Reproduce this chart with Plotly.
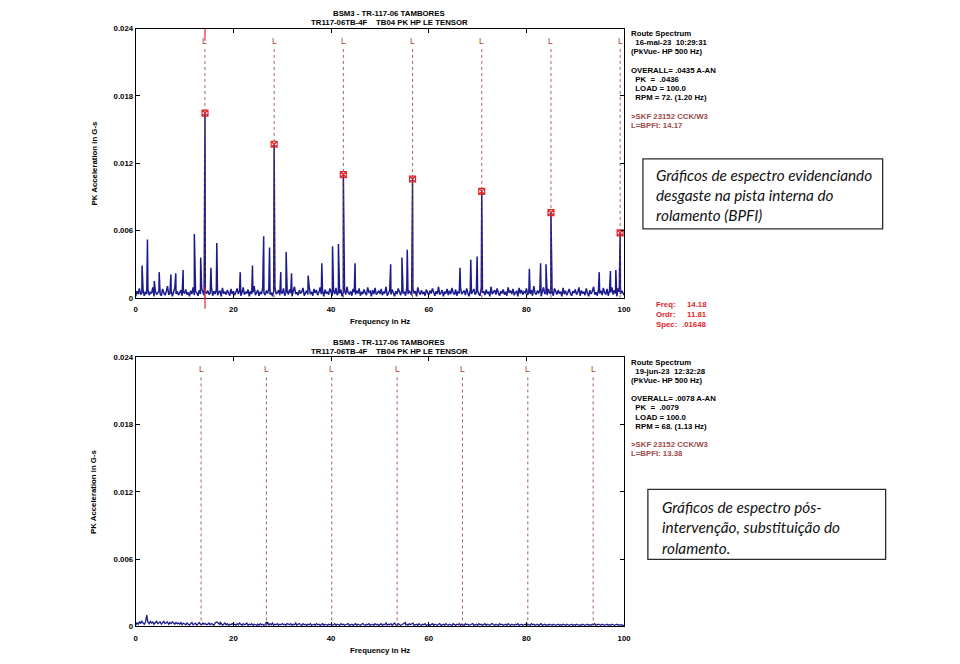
import numpy as np
import plotly.graph_objects as go

W, H = 960, 664

# ---- data -------------------------------------------------------------
# spectrum noise floor, one value every 0.25 Hz (0 .. 100 Hz), units of 1e-5 G
freq_step = 0.25
noise_top = [
    15, 60, 35, 85, 30, 45, 70, 20, 55, 35, 75, 25, 50, 40, 95, 15, 65, 30, 45, 60,
    35, 20, 80, 45, 25, 55, 105, 30, 40, 65, 15, 50, 90, 35, 60, 25, 45, 70, 20, 55,
    40, 75, 30, 50, 15, 65, 35, 95, 25, 60, 45, 20, 70, 35, 85, 50, 25, 55, 40, 65,
    30, 45, 100, 20, 60, 35, 75, 25, 50, 65, 15, 90, 40, 55, 30, 70, 45, 20, 80, 35,
    60, 25, 50, 85, 35, 65, 20, 45, 95, 30, 55, 40, 75, 15, 60, 35, 50, 105, 25, 45,
    70, 20, 55, 35, 90, 45, 25, 65, 40, 80, 30, 50, 15, 60, 95, 35, 45, 70, 25, 55,
    40, 85, 20, 50, 65, 30, 75, 45, 15, 60, 100, 35, 50, 25, 70, 40, 55, 90, 20, 45,
    65, 30, 105, 35, 55, 20, 80, 45, 70, 25, 50, 95, 35, 60, 15, 75, 40, 55, 30, 85,
    45, 20, 65, 35, 90, 25, 55, 40, 75, 15, 50, 70, 30, 100, 45, 35, 60, 20, 80, 50,
    30, 65, 40, 85, 20, 55, 35, 75, 45, 25, 95, 50, 60, 15, 70, 35, 90, 30, 45, 65,
    35, 80, 25, 55, 40, 100, 20, 50, 65, 30, 75, 45, 15, 60, 35, 85, 50, 25, 70, 40,
    55, 20, 90, 35, 65, 45, 25, 80, 40, 60, 15, 95, 50, 30, 70, 35, 55, 20, 75, 45,
    25, 65, 40, 85, 50, 20, 60, 35, 100, 30, 45, 70, 15, 55, 40, 80, 25, 65, 35, 90,
    45, 30, 75, 20, 60, 40, 95, 35, 50, 65, 25, 85, 45, 15, 70, 35, 55, 80, 30, 50,
    65, 35, 20, 90, 45, 60, 25, 75, 40, 55, 15, 100, 35, 50, 70, 30, 85, 45, 20, 60,
    40, 75, 30, 55, 20, 95, 45, 65, 35, 80, 25, 50, 60, 15, 90, 40, 70, 30, 55, 45,
    85, 25, 60, 35, 70, 20, 105, 45, 30, 65, 40, 75, 15, 55, 95, 35, 50, 25, 80, 45,
    35, 60, 20, 85, 45, 30, 70, 40, 55, 15, 90, 35, 65, 25, 50, 80, 40, 20, 60, 45,
    75, 30, 50, 95, 20, 65, 40, 55, 25, 85, 45, 15, 70, 35, 60, 100, 30, 50, 20, 75,
    40, 65, 25, 90, 45, 35, 80, 20, 60, 50, 95, 30, 70, 40, 15, 85, 55, 35, 65, 45,
    25,
]
noise_bottom = [
    10, 35, 20, 40, 25, 45, 30, 20, 40, 100, 35, 25, 45, 30, 40, 20, 35, 45, 25, 30,
    40, 20, 35, 45, 25, 30, 40, 20, 35, 25, 40, 30, 20, 35, 25, 30, 20, 35, 15, 30,
    25, 15, 30, 20, 10, 25, 35, 15, 20, 30, 10, 25, 35, 20, 15, 30, 20, 25, 15, 20,
    30, 15, 25, 20, 10, 30, 40, 35, 20, 15, 25, 10, 20, 30, 15, 25, 10, 20, 15, 25,
    15, 20, 10, 25, 15, 30, 20, 10, 25, 15, 20, 30, 10, 20, 15, 25, 10, 20, 15, 10,
    20, 10, 25, 15, 20, 10, 15, 40, 20, 10, 25, 15, 30, 10, 20, 15, 25, 10, 20, 15,
    25, 15, 20, 10, 25, 20, 15, 25, 10, 20, 15, 30, 10, 20, 25, 15, 10, 25, 15, 20,
    10, 20, 15, 25, 10, 15, 20, 10, 25, 15, 20, 10, 15, 25, 10, 20, 15, 10, 20, 15,
    20, 10, 15, 25, 10, 20, 15, 10, 25, 15, 20, 10, 15, 20, 25, 10, 15, 20, 10, 15,
    25, 10, 20, 15, 10, 20, 25, 15, 10, 20, 15, 25, 10, 15, 20, 10, 25, 15, 20, 10,
    15, 25, 10, 20, 15, 30, 10, 20, 15, 25, 10, 20, 30, 15, 10, 25, 20, 10, 15, 25,
    35, 15, 20, 10, 25, 15, 20, 30, 10, 15, 20, 10, 25, 15, 10, 20, 15, 25, 10, 15,
    20, 10, 15, 25, 10, 20, 15, 10, 20, 25, 10, 15, 20, 10, 25, 15, 10, 20, 15, 10,
    25, 15, 10, 20, 15, 25, 10, 20, 15, 10, 25, 15, 20, 10, 15, 20, 25, 10, 15, 20,
    10, 25, 15, 20, 10, 15, 25, 10, 20, 15, 10, 20, 25, 15, 10, 20, 15, 10, 25, 15,
    20, 10, 15, 20, 10, 25, 15, 10, 20, 15, 10, 20, 15, 25, 10, 15, 20, 10, 15, 20,
    10, 20, 15, 10, 25, 15, 20, 10, 15, 20, 10, 15, 25, 10, 15, 20, 10, 15, 10, 20,
    15, 10, 20, 15, 10, 15, 20, 10, 15, 10, 20, 15, 10, 20, 15, 10, 15, 20, 10, 15,
    10, 20, 15, 10, 15, 10, 20, 15, 10, 15, 20, 10, 15, 10, 20, 15, 25, 10, 15, 20,
    15, 10, 20, 15, 10, 15, 20, 10, 15, 10, 20, 15, 10, 15, 20, 10, 15, 10, 15, 10,
    10,
]

# discrete spectral lines above the floor (Hz, G)
peak_freq_top = [1.3, 2.4, 3.8, 4.8, 7.2, 8.2, 9.7, 12.0, 13.3, 15.4, 16.6, 21.4,
                 23.9, 26.2, 27.4, 29.7, 30.8, 31.9, 35.3, 38.1, 40.3, 41.5, 44.9,
                 52.2, 54.5, 55.6, 66.4, 68.6, 69.9, 80.6, 82.9, 84.0, 94.9, 97.2, 98.3]
peak_amp_top = [0.0029, 0.0052, 0.0015, 0.0023, 0.0021, 0.0022, 0.0025, 0.0057,
                0.0036, 0.0027, 0.0049, 0.0023, 0.0029, 0.0055, 0.0045, 0.0023,
                0.0041, 0.0022, 0.0020, 0.0031, 0.0046, 0.0048, 0.0031, 0.0030,
                0.0036, 0.0043, 0.0027, 0.0034, 0.0037, 0.0026, 0.0031, 0.0030,
                0.0023, 0.0024, 0.0025]
peak_freq_bottom = [1.2, 17.3, 27.0, 55.2]
peak_amp_bottom = [0.0005, 0.0004, 0.0004, 0.00035]

# BPFI harmonics (before intervention) and fault frequency lines
bpfi_freq_top = [14.18, 28.34, 42.51, 56.68, 70.85, 85.02, 99.19]
bpfi_amp_top = [0.01648, 0.0137, 0.0110, 0.0106, 0.0095, 0.0076, 0.0058]
l_lines_top = [14.17, 28.34, 42.51, 56.68, 70.85, 85.02, 99.19]
l_lines_bottom = [13.38, 26.76, 40.14, 53.52, 66.90, 80.28, 93.66]

y_ticks = [0, 0.006, 0.012, 0.018, 0.024]
y_tick_labels = ["0", "0.006", "0.012", "0.018", "0.024"]
x_ticks = [0, 20, 40, 60, 80, 100]

title_lines = ["BSM3 - TR-117-06 TAMBORES",
               "TR117-06TB-4F\u00a0\u00a0\u00a0\u00a0TB04 PK HP LE TENSOR"]
info_top = ["Route Spectrum", "\u00a0\u00a016-mai-23\u00a0\u00a010:29:31",
            "(PkVue- HP 500 Hz)", "",
            "OVERALL= .0435 A-AN", "\u00a0\u00a0PK\u00a0\u00a0=\u00a0\u00a0.0436",
            "\u00a0\u00a0LOAD = 100.0", "\u00a0\u00a0RPM = 72. (1.20 Hz)", ""]
info_bottom = ["Route Spectrum", "\u00a0\u00a019-jun-23\u00a0\u00a012:32:28",
               "(PkVue- HP 500 Hz)", "",
               "OVERALL= .0078 A-AN", "\u00a0\u00a0PK\u00a0\u00a0=\u00a0\u00a0.0079",
               "\u00a0\u00a0LOAD = 100.0", "\u00a0\u00a0RPM = 68. (1.13 Hz)", ""]
bearing_top = [">SKF 23152 CCK/W3", "L=BPFI: 14.17"]
bearing_bottom = [">SKF 23152 CCK/W3", "L=BPFI: 13.38"]
cursor_names = ["Freq:", "Ordr:", "Spec:"]
cursor_values = ["14.18", "11.81", ".01648"]
note_top = ["Gráficos de espectro evidenciando", "desgaste na pista interna do",
            "rolamento (BPFI)"]
note_bottom = ["Gráficos de espectro pós-", "intervenção, substituição do",
               "rolamento."]

# ---- styles -----------------------------------------------------------
NAVY = "#1b1b8c"
LRED = "#8e3a36"
CURSOR = "#e3262b"
FONT = "Liberation Sans, Arial, sans-serif"


def build(noise, pk_f, pk_a):
    f = [i * freq_step for i in range(len(noise))]
    a = [v * 1e-5 for v in noise]
    pts = sorted(zip(f + list(pk_f), a + list(pk_a)))
    return [p[0] for p in pts], [p[1] for p in pts]


x_top, y_top = build(noise_top, peak_freq_top + bpfi_freq_top, peak_amp_top + bpfi_amp_top)
x_bot, y_bot = build(noise_bottom, peak_freq_bottom, peak_amp_bottom)

fig = go.Figure()
fig.add_trace(go.Scatter(x=x_top, y=y_top, mode="lines", line=dict(color=NAVY, width=1.5),
                         xaxis="x", yaxis="y", hoverinfo="skip"))
fig.add_trace(go.Scatter(x=bpfi_freq_top, y=bpfi_amp_top, mode="markers",
                         marker=dict(symbol="square-x-open", color=CURSOR, size=6,
                                     line=dict(width=1.2, color=CURSOR)),
                         xaxis="x", yaxis="y", hoverinfo="skip"))
fig.add_trace(go.Scatter(x=x_bot, y=y_bot, mode="lines", line=dict(color=NAVY, width=1.3),
                         xaxis="x2", yaxis="y2", hoverinfo="skip"))


def px(x):
    return x / W


def py(y):
    return 1 - y / H


def txt(x, y, s, size=7.8, color="black", anchor="left", weight="bold",
        family=FONT, style="normal", angle=0):
    fig.add_annotation(x=px(x), y=py(y), xref="paper", yref="paper", text=s,
                       showarrow=False, xanchor=anchor, yanchor="middle",
                       textangle=angle, borderpad=0,
                       font=dict(size=size, color=color, family=family,
                                 weight=weight, style=style))


axis_common = dict(showline=True, linecolor="black", linewidth=1.2, mirror="allticks",
                   ticks="inside", ticklen=4, tickcolor="black", showgrid=False,
                   zeroline=False, tickfont=dict(size=7.8, family=FONT, weight="bold",
                                                 color="black"))

panels = [
    # x axis, y axis, top px, bottom px
    ("x", "y", 25, 298),
    ("x2", "y2", 358, 631),
]
layout_axes = {}
for xa, ya, top, bot in panels:
    xname = "xaxis" if xa == "x" else "xaxis2"
    yname = "yaxis" if ya == "y" else "yaxis2"
    layout_axes[xname] = dict(axis_common, domain=[px(135), px(628)], range=[0, 100],
                              tickvals=x_ticks, anchor=ya, ticklabelstandoff=4)
    layout_axes[yname] = dict(axis_common, domain=[py(bot), py(top)], range=[0, 0.024],
                              tickvals=y_ticks, ticktext=y_tick_labels, anchor=xa)

fig.update_layout(width=W, height=H, margin=dict(l=0, r=0, t=0, b=0),
                  paper_bgcolor="white", plot_bgcolor="white", showlegend=False,
                  **layout_axes)

# fault frequency lines with "L" labels
for (xa, ya, top, bot), lines in zip(panels, [l_lines_top, l_lines_bottom]):
    for f in lines:
        fig.add_shape(type="line", xref=xa, yref=ya, x0=f, x1=f, y0=0, y1=0.0223,
                      line=dict(color=LRED, width=0.8, dash="dot"))
        fig.add_annotation(x=f, y=0.0229, xref=xa, yref=ya, text="L", showarrow=False,
                           font=dict(size=8.5, color="#a53a34", family=FONT),
                           yanchor="middle")

# cursor at the first harmonic
fig.add_shape(type="line", xref="x", yref="y domain", x0=bpfi_freq_top[0], x1=bpfi_freq_top[0],
              y0=0.955, y1=1, line=dict(color=CURSOR, width=1.2))
fig.add_shape(type="line", xref="x", yref="y domain", x0=bpfi_freq_top[0], x1=bpfi_freq_top[0],
              y0=-0.04, y1=0.04, line=dict(color=CURSOR, width=1.2))

# titles and axis labels
for (xa, ya, top, bot) in panels:
    txt(391, top - 15, title_lines[0], anchor="center")
    txt(391, top - 6, title_lines[1], anchor="center")
    txt(382, bot + 24, "Frequency in Hz", anchor="center")
    txt(93, (top + bot) / 2, "PK Acceleration in G-s", anchor="center", angle=-90)

# info blocks on the right
for (xa, ya, top, bot), info, brg in zip(panels, [info_top, info_bottom],
                                          [bearing_top, bearing_bottom]):
    y = top + 5
    for line in info:
        if line:
            txt(634, y, line)
        y += 9.3
    for line in brg:
        txt(634, y, line, color="#9c4a4a")
        y += 9.3

# cursor readout
for i, (n, v) in enumerate(zip(cursor_names, cursor_values)):
    txt(659, 305 + i * 9.7, n, color=CURSOR)
    txt(713, 305 + i * 9.7, v, color=CURSOR, anchor="right")

# comment boxes
boxes = [(647, 157, 889, 228, 659, 173, note_top),
         (652, 492, 892, 563, 665, 510, note_bottom)]
for x0, y0, x1, y1, tx, ty, lines in boxes:
    fig.add_shape(type="rect", xref="paper", yref="paper", x0=px(x0), x1=px(x1),
                  y0=py(y1), y1=py(y0), line=dict(color="#2b2b2b", width=1.3),
                  fillcolor="white")
    for i, line in enumerate(lines):
        txt(tx, ty + i * 20.5, line, size=15.3, weight="normal", style="italic",
            family="Lato, Open Sans, sans-serif", color="#111111")

fig.write_html("out.html", config={"displayModeBar": False},
               post_script="document.body.style.margin='0';"
                           "document.body.style.overflow='hidden';"
                           "document.documentElement.style.overflow='hidden';")
